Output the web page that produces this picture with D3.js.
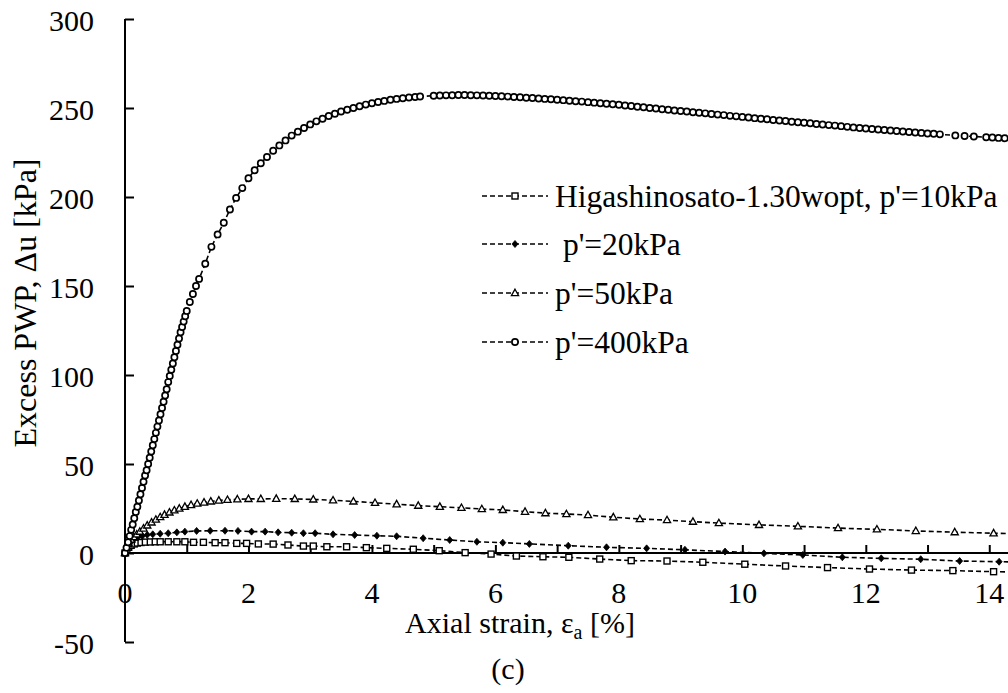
<!DOCTYPE html>
<html><head><meta charset="utf-8">
<script src="https://cdn.jsdelivr.net/npm/d3@7"></script>
<style>
html,body{margin:0;padding:0;background:#fff;}
svg{display:block;}
text{font-family:"Liberation Serif","Times New Roman",serif;fill:#000;}
</style></head>
<body>
<svg id="chart" width="1008" height="693"></svg>
<script>
// ---------- data ----------
const xTicks = [0,2,4,6,8,10,12,14];
const yTicks = [-50,0,50,100,150,200,250,300];
const seriesNames = ["Higashinosato-1.30wopt, p'=10kPa", " p'=20kPa", "p'=50kPa", "p'=400kPa"];

const strain10 = [0,0.03,0.06,0.1,0.15,0.2,0.26,0.33,0.41,0.49,0.57,0.7,0.84,0.97,1.11,1.27,1.46,1.62,1.81,1.97,2.16,2.4,2.64,2.89,3.05,3.27,3.59,3.91,4.24,4.67,5.09,5.51,5.93,6.34,6.77,7.19,7.69,8.2,8.78,9.36,10.04,10.7,11.38,12.06,12.74,13.41,14.07,14.75];
const pwp10 = [0,1.8,3.2,4.3,5.1,5.6,5.9,6.1,6.2,6.3,6.3,6.3,6.3,6.3,6.0,6.0,5.8,5.8,5.4,5.4,5.1,5.0,4.5,3.9,3.9,3.5,3.5,3.0,2.6,2.1,1.3,0.2,-0.6,-1.7,-2.1,-2.4,-3.4,-4.3,-4.5,-5.2,-6.3,-7.3,-8.2,-9.0,-9.6,-9.9,-10.5,-10.9];

const strain20 = [0,0.03,0.06,0.1,0.15,0.21,0.28,0.36,0.45,0.57,0.7,0.84,0.97,1.16,1.38,1.62,1.83,2.05,2.27,2.48,2.7,2.89,3.08,3.37,3.72,4.08,4.4,4.83,5.26,5.7,6.12,6.55,7.18,7.8,8.45,9.07,9.72,10.35,10.98,11.62,12.25,12.89,13.52,14.16,14.8];
const pwp20 = [0,2.5,4.5,6.3,7.8,8.8,9.6,10.2,10.5,10.8,11.1,11.6,12.0,12.4,12.5,12.5,12.4,12.0,12.0,11.6,11.4,11.1,11.1,10.5,10.1,9.7,9.4,8.3,7.3,6.3,5.8,5.1,4.1,3.2,2.6,1.8,0.8,-0.2,-1.1,-2.4,-3.0,-3.5,-4.5,-4.9,-5.2];

const strain50 = [0,0.03,0.06,0.1,0.14,0.19,0.24,0.3,0.36,0.43,0.5,0.57,0.64,0.72,0.8,0.88,0.97,1.07,1.17,1.28,1.39,1.52,1.66,1.82,2.0,2.2,2.45,2.75,3.05,3.37,3.7,4.05,4.4,4.75,5.1,5.45,5.78,6.12,6.48,6.81,7.15,7.5,7.91,8.34,8.78,9.2,9.62,10.27,10.9,11.55,12.18,12.81,13.44,14.07,14.7];
const pwp50 = [0,3,5.5,7.5,9,10.5,12,13.8,15.5,17.2,18.8,20.2,21.5,22.8,24,25,26,27,27.8,28.4,29,29.5,29.9,30.2,30.4,30.4,30.5,30.4,30.1,29.6,29.0,28.2,27.4,26.6,26.0,25.4,24.7,24.2,23.2,22.4,21.9,21.3,20.1,19.1,18.5,17.6,16.8,15.8,15.0,14.0,13.3,12.4,11.7,11.1,10.6];

const strain400 = [0,0.025,0.05,0.075,0.1,0.125,0.15,0.175,0.2,0.225,0.25,0.275,0.3,0.325,0.35,0.375,0.4,0.425,0.45,0.475,0.5,0.525,0.55,0.575,0.6,0.625,0.65,0.675,0.7,0.725,0.75,0.775,0.8,0.825,0.85,0.875,0.9,0.925,0.95,0.975,1.0,
1.05,1.1,1.15,1.2,1.3,1.4,1.5,1.6,1.7,1.8,1.9,2.0,2.1,2.2,2.3,2.4,2.5,2.6,2.7,2.8,2.9,3.0,3.1,3.2,3.3,3.4,3.5,3.6,3.7,3.8,3.9,4.0,4.1,4.2,4.3,4.4,4.5,4.6,4.7,4.78,
5.0,5.1,5.2,5.3,5.4,5.5,5.6,5.7,5.8,5.9,6.0,6.1,6.2,6.3,6.4,6.5,6.6,6.7,6.8,6.9,7.0,7.1,7.2,7.3,7.4,7.5,7.6,7.7,7.8,7.9,8.0,8.1,8.2,8.3,8.4,8.5,8.6,8.7,8.8,8.9,9.0,9.1,9.2,9.3,9.4,9.5,9.6,9.7,9.8,9.9,10.0,10.1,10.2,10.3,10.4,10.5,10.6,10.7,10.8,10.9,11.0,11.1,11.2,11.3,11.4,11.5,11.6,11.7,11.8,11.9,12.0,12.1,12.2,12.3,12.4,12.5,12.6,12.7,12.8,12.9,13.0,13.1,13.2,13.45,13.6,13.75,13.95,14.05,14.15,14.25,14.35,14.45,14.55];
const pwp400 = [0,3,6,9.5,13,16,19.5,23,26,29.5,33,36.5,40,43.5,46.5,50,53.5,57,60.5,64,67.5,71,74.5,78,81.5,85,88.5,92,96,99.5,103,106.5,110,113.5,117,120.5,124,127,130,133,136,
141,145.5,150,154,162.5,172,179,185.5,193,199.5,205,210.5,215,219,222.5,226,229,231.8,234.5,236.7,238.8,240.8,242.5,244,245.5,246.8,248,249,250,251,251.9,252.7,253.4,254,254.6,255.1,255.5,255.9,256.2,256.5,
256.9,257.0,257.1,257.2,257.3,257.3,257.2,257.1,257.0,256.9,256.7,256.6,256.4,256.2,256.0,255.8,255.6,255.3,255.1,254.9,254.6,254.4,254.1,253.8,253.6,253.3,253.0,252.7,252.4,252.1,251.8,251.4,251.1,250.7,250.4,250.0,249.7,249.3,249.0,248.6,248.3,248.0,247.6,247.3,247.0,246.6,246.3,246.0,245.6,245.3,245.0,244.7,244.3,244.0,243.7,243.3,243.0,242.7,242.3,242.0,241.7,241.4,241.0,240.7,240.4,240.1,239.8,239.4,239.1,238.8,238.5,238.2,237.9,237.6,237.4,237.1,236.8,236.5,236.2,236.0,235.7,235.5,235.2,234.6,234.3,234.0,233.6,233.4,233.2,233.0,232.8,232.7,232.5];

// ---------- chart ----------
const svg = d3.select("#chart");
const x = d3.scaleLinear().domain([0, 15]).range([125, 1051]);
const y = d3.scaleLinear().domain([-50, 300]).range([642, 19]);
const FS = 30;

// y axis (ticks inward)
const yAxis = d3.axisRight(y).tickValues(yTicks).tickSize(9).tickFormat("");
const gy = svg.append("g").attr("transform", `translate(${x(0)},0)`).call(yAxis);
gy.select(".domain").attr("stroke", "#000").attr("stroke-width", 2).attr("d", `M0,${y(-50)}V${y(300)}`);
gy.selectAll(".tick line").attr("stroke", "#000").attr("stroke-width", 2);
svg.append("g").selectAll("text").data(yTicks).join("text")
  .attr("x", 94).attr("y", d => y(d) + 12).attr("text-anchor", "end")
  .attr("font-size", FS).text(d => d);

// x axis at y=0 (ticks upward)
const xAxis = d3.axisTop(x).ticks(15).tickSize(8).tickFormat("");
const gx = svg.append("g").attr("transform", `translate(0,${y(0)})`).call(xAxis);
gx.select(".domain").attr("stroke", "#000").attr("stroke-width", 2).attr("d", `M${x(0)},0H1010`);
gx.selectAll(".tick line").attr("stroke", "#000").attr("stroke-width", 2);
svg.append("g").selectAll("text").data(xTicks).join("text")
  .attr("x", d => x(d)).attr("y", 603).attr("text-anchor", "middle")
  .attr("font-size", FS).text(d => d);

// titles
const xt = svg.append("text").attr("x", 520).attr("y", 633).attr("text-anchor", "middle").attr("font-size", FS);
xt.append("tspan").text("Axial strain, ε");
xt.append("tspan").attr("font-size", 20).attr("dy", 6).text("a");
xt.append("tspan").attr("dy", -6).text(" [%]");
svg.append("text").attr("transform", "translate(36,303) rotate(-90)").attr("text-anchor", "middle")
  .attr("font-size", 32).text("Excess PWP, Δu [kPa]");
svg.append("text").attr("x", 508).attr("y", 679).attr("text-anchor", "middle").attr("font-size", FS).text("(c)");

// series
const series = [
  {s: strain10, v: pwp10, m: "square"},
  {s: strain20, v: pwp20, m: "diamond"},
  {s: strain50, v: pwp50, m: "triangle"},
  {s: strain400, v: pwp400, m: "circle"}
];
const line = d3.line().x(d => x(d[0])).y(d => y(d[1]));
function drawMarker(g, type, cx, cy) {
  if (type === "circle") {
    g.append("circle").attr("cx", cx).attr("cy", cy).attr("r", 3.1)
      .attr("fill", "#fff").attr("stroke", "#000").attr("stroke-width", 1.7);
  } else if (type === "square") {
    g.append("rect").attr("x", cx - 3).attr("y", cy - 3).attr("width", 6).attr("height", 6)
      .attr("fill", "#fff").attr("stroke", "#000").attr("stroke-width", 1.4);
  } else if (type === "triangle") {
    g.append("path").attr("d", `M${cx},${cy-3.8}L${cx+3.6},${cy+2.6}L${cx-3.6},${cy+2.6}Z`)
      .attr("fill", "#fff").attr("stroke", "#000").attr("stroke-width", 1.3);
  } else {
    g.append("path").attr("d", `M${cx},${cy-3.5}L${cx+3},${cy}L${cx},${cy+3.5}L${cx-3},${cy}Z`)
      .attr("fill", "#000").attr("stroke", "#000").attr("stroke-width", 0.8);
  }
}
series.forEach(sr => {
  const pts = sr.s.map((e, i) => [e, sr.v[i]]);
  const g = svg.append("g");
  g.append("path").datum(pts).attr("d", line).attr("fill", "none")
    .attr("stroke", "#000").attr("stroke-width", 1.6).attr("stroke-dasharray", "5,3");
  pts.forEach(p => drawMarker(g, sr.m, x(p[0]), y(p[1])));
});

// legend
const legY = [196, 244, 293, 342];
series.forEach((sr, i) => {
  const g = svg.append("g");
  g.append("line").attr("x1", 482).attr("x2", 548).attr("y1", legY[i]).attr("y2", legY[i])
    .attr("stroke", "#000").attr("stroke-width", 1.6).attr("stroke-dasharray", "5,3");
  drawMarker(g, sr.m, 515, legY[i]);
  g.append("text").attr("x", 555).attr("y", legY[i] + 11).attr("font-size", 31.5)
    .attr("xml:space", "preserve").style("white-space", "pre").text(seriesNames[i]);
});
</script>
</body></html>
